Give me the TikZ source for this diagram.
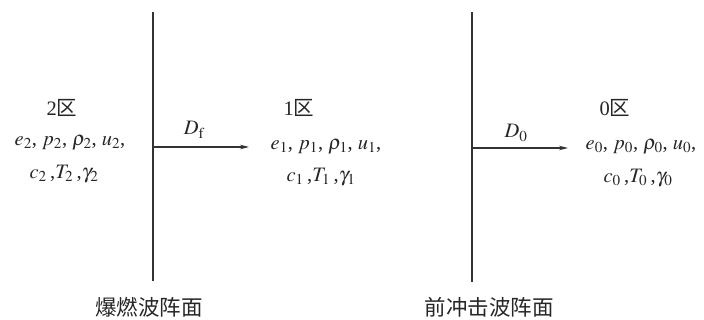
\documentclass[tikz,border=0pt]{standalone}
\usepackage{mathptmx}
\usepackage{fontspec}
\setmainfont{Liberation Serif}
\newfontfamily\cjk{Noto Sans CJK SC}
\usetikzlibrary{arrows.meta}
\begin{document}
\begin{tikzpicture}[x=1pt,y=-1pt,
  front/.style={line width=2pt,draw=black!80},
  flow/.style={line width=1.1pt,draw=black!80,-{Stealth[length=9pt,width=4.5pt]}},
  lbl/.style={inner sep=0pt,font=\fontsize{20.5}{24}\selectfont,text=black!85},
  captxt/.style={inner sep=0pt,font=\fontsize{21.5}{26}\selectfont\cjk,text=black!85}]
\useasboundingbox (0,0) rectangle (704,320);
% fronts
\coordinate (Lt) at (153,12);
\coordinate (Lb) at (153,281);
\coordinate (Rt) at (472,12);
\coordinate (Rb) at (472,282);
\draw[front] (Lt) -- (Lb);
\draw[front] (Rt) -- (Rb);
% arrows
\coordinate (Fa) at (153,147);
\coordinate (Fb) at (249,147);
\coordinate (Sa) at (472,148);
\coordinate (Sb) at (568,148);
\draw[flow] (Fa) -- (Fb);
\draw[flow] (Sa) -- (Sb);
\node[lbl] (Df) at (194,130) {$D_{\mathrm{f}}$};
\node[lbl] (D0) at (516,133) {$D_0$};
% region 2
\node[lbl] (z2) at (62,108) {2{\cjk 区}};
\node[lbl] (s2a) at (70,143) {$e_2$, $p_2$, $\rho_2$, $u_2$,};
\node[lbl] (s2b) at (64,174) {$c_2$\,,$T_2$\,,$\gamma_2$};
% region 1
\node[lbl] (z1) at (299,108) {1{\cjk 区}};
\node[lbl] (s1a) at (326,147) {$e_1$, $p_1$, $\rho_1$, $u_1$,};
\node[lbl] (s1b) at (321,177) {$c_1$\,,$T_1$\,,$\gamma_1$};
% region 0
\node[lbl] (z0) at (615,108) {0{\cjk 区}};
\node[lbl] (s0a) at (641,147) {$e_0$, $p_0$, $\rho_0$, $u_0$,};
\node[lbl] (s0b) at (638,178) {$c_0$\,,$T_0$\,,$\gamma_0$};
% captions
\node[captxt] (cL) at (149,307) {爆燃波阵面};
\node[captxt] (cR) at (489,307) {前冲击波阵面};
\end{tikzpicture}
\end{document}
